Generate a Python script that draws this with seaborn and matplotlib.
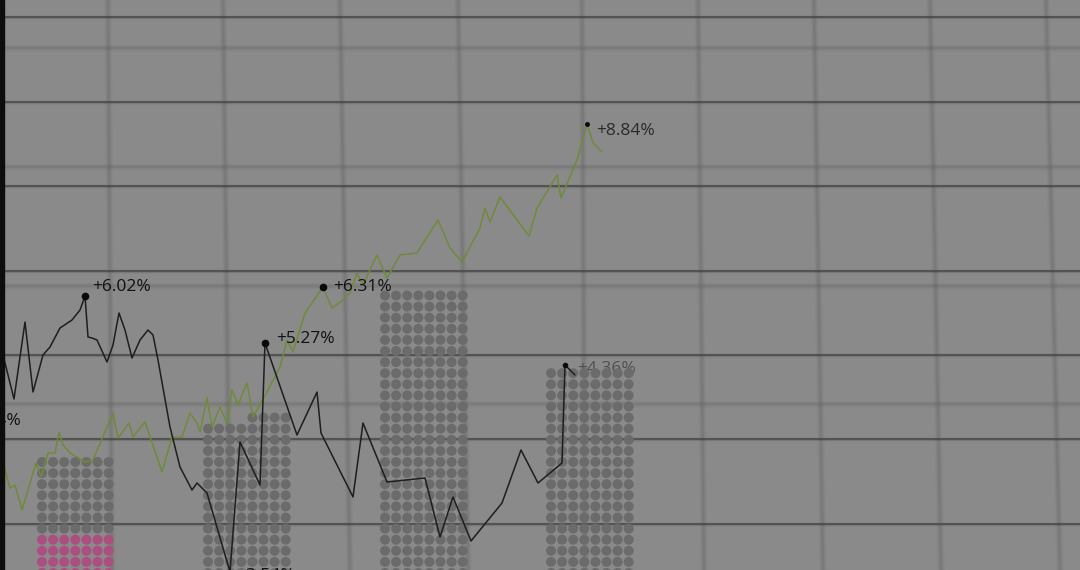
import numpy as np
import pandas as pd
import matplotlib
matplotlib.use("Agg")
import matplotlib.pyplot as plt
import seaborn as sns

# ---------------- data (x = time step, y = level, screen units) ----
black_t = [0, 3, 14, 25, 33, 43, 50, 60, 72, 80,
           85, 88, 92, 97, 107, 113, 119, 125, 132, 140,
           148, 153, 158, 170, 180, 192, 197, 207, 230, 240,
           260, 265, 297, 317, 321, 353, 363, 387, 425, 440,
           453, 471, 502, 521, 538, 562, 565, 575]
black_v = [340, 355, 399, 322, 392, 355, 347, 328, 320, 310,
           296, 337, 338, 340, 362, 345, 313, 330, 358, 340,
           330, 335, 360, 427, 467, 490, 483, 493, 572, 442,
           485, 343, 435, 392, 433, 497, 423, 482, 478, 537,
           497, 541, 503, 450, 483, 463, 365, 375]

green_t = [4, 10, 15, 17, 22, 36, 41, 48, 55, 59,
           63, 70, 85, 93, 113, 118, 129, 133, 145, 162,
           172, 182, 190, 197, 200, 207, 212, 220, 227, 232,
           238, 247, 253, 268, 280, 287, 293, 305, 323, 332,
           343, 350, 357, 363, 377, 387, 400, 417, 427, 438,
           450, 462, 480, 485, 490, 500, 529, 537, 557, 561,
           577, 587, 593, 602]
green_v = [466, 488, 485, 492, 510, 463, 477, 453, 453, 432,
           445, 453, 462, 460, 413, 438, 423, 437, 422, 472,
           437, 437, 413, 423, 432, 398, 427, 407, 423, 390,
           405, 383, 417, 390, 367, 340, 352, 313, 287, 308,
           300, 293, 273, 285, 255, 278, 255, 253, 237, 220,
           248, 262, 228, 208, 222, 197, 236, 208, 175, 198,
           160, 124, 143, 152]

# annotated points: (t, level, label)
ann_t = [85, 265, 323, 587, 565, 230, -40]
ann_v = [296, 343, 287, 124, 365, 572, 421]
ann_labels = ["+6.02%", "+5.27%", "+6.31%", "+8.84%", "+4.36%", "-2.54%", "+1.24%"]

# waffle columns
waffle_pos = [42, 208, 385, 551]
waffle_cols = [7, 8, 8, 8]
waffle_rows = [11, 14, 26, 19]
waffle_pink_rows = [4, 0, 0, 0]
waffle_extra = [0, 4, 0, 0]

assert len(black_t) == len(black_v) and len(green_t) == len(green_v)

# ---------------- style ----------------
BG = "#8a8a8a"
sns.set_theme(style="white", rc={"axes.facecolor": BG, "figure.facecolor": BG})
plt.rcParams["font.family"] = ["Open Sans", "DejaVu Sans"]

fig = plt.figure(figsize=(10.8, 5.7), dpi=100)
ax = fig.add_axes([0, 0, 1, 1])
ax.set_facecolor(BG)

# grid: soft verticals (very slightly converging toward top)
v_bottom = [112, 230, 350, 468, 585, 704, 823, 941, 1060]
v_top = [108, 223, 340, 458, 582, 698, 814, 930, 1046]
for xb, xt in zip(v_bottom, v_top):
    for lw, a in [(5.5, 0.06), (3.5, 0.12), (2, 0.16)]:
        ax.plot([xb, xt], [570, 0], color="#5a5a5a", lw=lw, alpha=a, zorder=1,
                solid_capstyle="butt")
# light soft horizontals
for y in [48, 167, 286, 404]:
    for lw, a in [(5, 0.06), (3, 0.12), (1.6, 0.14)]:
        ax.axhline(y, color="#5a5a5a", lw=lw, alpha=a, zorder=1)
# dark horizontals
for y in [17, 102, 186, 271, 355, 439, 524]:
    ax.axhline(y, color="#444444", lw=2.4, alpha=0.25, zorder=2)
    ax.axhline(y, color="#444444", lw=1.2, alpha=0.85, zorder=2)

# left black strip
ax.axvspan(0, 3.5, color="#0d0d0d", zorder=10)

# waffle dots
pitch = 11.1
bottom = 573
recs = []
for x0, nc, nr, npk, ne in zip(waffle_pos, waffle_cols, waffle_rows,
                               waffle_pink_rows, waffle_extra):
    for r in range(nr):
        y = bottom - r * pitch
        kind = "pink" if r < npk else "gray"
        for c in range(nc):
            recs.append((x0 + c * pitch, y, kind))
    for c in range(nc - ne, nc):
        recs.append((x0 + c * pitch, bottom - nr * pitch, "gray"))
dots = pd.DataFrame(recs, columns=["x", "y", "kind"])
sns.scatterplot(data=dots, x="x", y="y", hue="kind",
                palette={"gray": "#6b6b6b", "pink": "#ab4f80"},
                s=52, linewidth=0, legend=False, ax=ax, zorder=4)

# lines
gdf = pd.DataFrame({"t": green_t, "v": green_v})
bdf = pd.DataFrame({"t": black_t, "v": black_v})
sns.lineplot(data=gdf, x="t", y="v", color="#6f8a3a", lw=1.1, sort=False, ax=ax, zorder=5)
sns.lineplot(data=bdf, x="t", y="v", color="#1e1e1e", lw=1.1, sort=False, ax=ax, zorder=6)
ax.set_xlim(0, 1080)
ax.set_ylim(570, 0)
ax.axis("off")

# annotations
offsets = [(7, -9), (11, -4), (10, 0), (9, 7), (12, 4), (10, 4), (0, 0)]
colors = ["#111111", "#111111", "#111111", "#2a2a2a", "#505050", "#111111", "#111111"]
dot_sizes = [4.5, 4.5, 4.5, 2.5, 3, 0, 0]
for t, v, lab, (dx, dy), col, ms in zip(ann_t, ann_v, ann_labels, offsets, colors, dot_sizes):
    if ms > 0:
        ax.plot([t], [v], "o", color="#0a0a0a", ms=ms, zorder=7)
    z = 3 if lab == "+4.36%" else 8
    if lab == "+1.24%":
        ax.text(21, v, lab, ha="right", va="center", fontsize=12.5, color=col, zorder=z)
    else:
        ax.text(t + dx, v + dy, lab, ha="left", va="center", fontsize=12.5, color=col, zorder=z)

fig.savefig("out.png", dpi=100, facecolor=BG)
